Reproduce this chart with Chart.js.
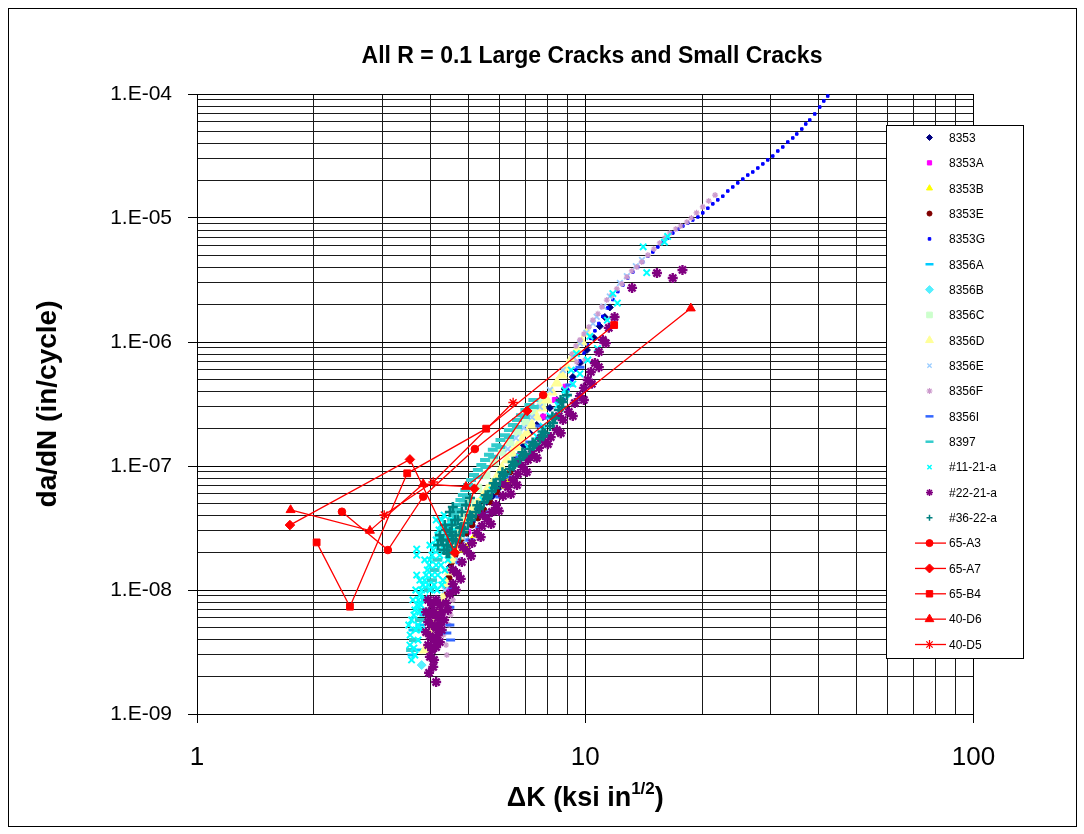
<!DOCTYPE html>
<html>
<head>
<meta charset="utf-8">
<title>All R = 0.1 Large Cracks and Small Cracks</title>
<script src="https://cdn.jsdelivr.net/npm/chart.js@4.4.1/dist/chart.umd.min.js"></script>
<style>
  html, body { margin: 0; padding: 0; background: #fff; }
  #wrap { width: 1084px; height: 834px; position: relative; }
</style>
</head>
<body>
<div id="wrap"><canvas id="crackChart" width="1084" height="834"></canvas></div>
<script>
// --- Data: [deltaK (ksi in^1/2), da/dN (in/cycle)] per specimen ---
const s8353 = [[11.57,1.90e-6],[11.23,1.59e-6],[10.90,1.34e-6],[10.53,1.08e-6],[10.10,8.62e-7],[9.69,6.77e-7],[9.29,5.22e-7],[8.86,4.18e-7],[8.45,3.41e-7],[8.11,2.94e-7],[7.78,2.48e-7],[7.50,2.14e-7],[7.20,1.84e-7],[6.95,1.47e-7],[6.67,1.18e-7],[6.36,9.11e-8],[6.03,6.77e-8],[5.78,5.73e-8],[5.58,5.13e-8],[5.35,4.42e-8],[5.11,3.54e-8],[4.96,2.88e-8],[4.76,2.48e-8],[4.64,2.10e-8],[4.56,1.75e-8],[4.48,1.54e-8],[4.43,1.25e-8],[4.40,1.04e-8]];
const s8353A = [[4.40,9.3e-9],[4.46,1.02e-8],[5.00,2.96e-8],[5.29,4.02e-8],[6.79,1.23e-7],[7.80,2.50e-7],[8.35,3.41e-7],[8.90,4.36e-7]];
const s8353B = [[4.84,2.10e-8],[4.93,2.23e-8],[5.10,2.53e-8],[5.20,2.77e-8],[6.21,6.88e-8],[6.32,7.50e-8]];
const s8353E = [[6.40,8.94e-8],[6.14,7.27e-8],[5.92,6.16e-8],[5.68,5.13e-8],[5.48,4.42e-8],[5.29,3.81e-8],[5.11,3.34e-8],[4.93,2.88e-8],[4.81,2.48e-8],[4.70,2.18e-8],[4.62,1.91e-8],[4.53,1.68e-8],[4.48,1.48e-8],[4.46,1.25e-8],[4.40,1.10e-8],[4.38,9.28e-9]];
const s8353G = [[42.13,9.63e-5],[41.15,8.78e-5],[40.18,7.85e-5],[39.00,6.90e-5],[37.87,6.17e-5],[36.98,5.73e-5],[36.12,5.22e-5],[35.06,4.76e-5],[34.24,4.42e-5],[33.24,4.10e-5],[32.27,3.74e-5],[31.33,3.47e-5],[30.41,3.16e-5],[29.52,2.94e-5],[28.67,2.73e-5],[27.83,2.53e-5],[27.01,2.35e-5],[26.22,2.22e-5],[25.46,2.06e-5],[24.71,1.92e-5],[23.99,1.78e-5],[23.29,1.65e-5],[22.61,1.50e-5],[21.95,1.40e-5],[21.31,1.30e-5],[20.69,1.20e-5],[20.08,1.10e-5],[19.50,1.02e-5],[18.92,9.64e-6],[18.37,9.11e-6],[17.84,8.62e-6],[17.31,8.15e-6],[16.81,7.57e-6],[16.32,6.90e-6],[15.84,6.40e-6],[15.38,5.84e-6],[14.93,5.32e-6],[14.50,4.94e-6],[14.07,4.42e-6],[13.66,4.03e-6],[13.26,3.67e-6],[12.87,3.28e-6],[12.50,2.88e-6],[12.13,2.55e-6],[11.78,2.20e-6],[11.43,1.88e-6],[11.10,1.61e-6],[10.84,1.41e-6],[10.59,1.23e-6],[10.34,1.07e-6],[10.15,9.46e-7],[9.92,8.15e-7],[9.685,7.03e-7],[9.46,5.94e-7],[9.24,4.94e-7],[9.02,4.10e-7],[8.81,3.41e-7],[8.60,2.83e-7]];
const s8356A = [[3.60,4.76e-9],[3.66,3.95e-9],[3.71,3.28e-9],[3.58,2.99e-9],[3.75,5.22e-9],[3.84,6.28e-9]];
const s8356B = [[3.79,2.48e-9]];
const s8356C = [[7.73,3.22e-7],[7.37,2.73e-7],[7.03,2.27e-7],[6.71,1.88e-7],[6.40,1.56e-7],[6.10,1.30e-7],[5.82,1.08e-7],[5.55,8.46e-8],[5.29,6.64e-8],[5.05,5.32e-8],[4.81,4.02e-8],[4.62,3.05e-8]];
const s8356D = [[10.1,1.18e-6],[9.80,1.0e-6],[9.52,8.62e-7],[9.24,7.43e-7],[8.97,6.27e-7],[8.71,5.41e-7],[8.45,4.67e-7],[8.20,3.95e-7],[7.96,3.41e-7],[7.73,2.94e-7],[7.50,2.48e-7],[7.29,2.14e-7],[7.07,1.84e-7],[6.87,1.62e-7],[6.67,1.42e-7],[6.47,1.27e-7],[6.28,1.12e-7],[6.10,9.63e-8],[5.92,8.15e-8],[5.75,7.15e-8],[5.58,6.40e-8],[5.42,5.52e-8],[5.26,4.93e-8],[5.11,4.34e-8],[4.96,3.67e-8],[4.84,3.17e-8],[4.76,2.72e-8],[4.64,2.18e-8],[4.56,1.75e-8],[4.48,1.40e-8],[4.40,1.12e-8],[4.30,8.62e-9],[4.22,6.90e-9],[4.10,5.52e-9],[3.98,4.50e-9],[3.86,3.28e-9]];
const s8356E = [[14.0,4.58e-6],[13.5,4.08e-6],[12.8,3.39e-6],[12.28,2.99e-6],[11.57,2.33e-6],[11.13,1.93e-6],[10.7,1.60e-6],[10.47,1.41e-6],[10.07,1.19e-6],[9.69,9.75e-7],[9.30,7.60e-7],[8.76,5.94e-7],[8.11,4.10e-7],[7.64,3.00e-7],[7.29,2.47e-7],[6.95,2.03e-7],[6.63,1.68e-7],[6.32,1.37e-7],[4.93,2.53e-8],[4.70,1.75e-8],[4.35,1.0e-8],[4.17,8.31e-9]];
const s8356F = [[21.6,1.53e-5],[20.8,1.37e-5],[20.08,1.23e-5],[19.35,1.10e-5],[18.77,1.0e-5],[18.27,9.28e-6],[17.62,8.62e-6],[17.11,8.15e-6],[16.51,7.57e-6],[16.03,6.90e-6],[15.56,6.29e-6],[15.02,5.62e-6],[14.50,5.02e-6],[13.98,4.42e-6],[13.58,4.03e-6],[13.18,3.74e-6],[12.80,3.34e-6],[12.43,2.94e-6],[12.06,2.68e-6],[11.71,2.40e-6],[11.36,2.18e-6],[11.04,1.92e-6],[10.78,1.69e-6],[10.46,1.50e-6],[10.22,1.32e-6],[9.92,1.16e-6],[9.69,1.04e-6],[9.46,9.28e-7],[9.24,8.00e-7],[9.51,6.90e-7],[9.98,7.16e-7],[4.31,4.33e-9],[4.38,3.60e-9],[4.46,5.22e-9],[4.50,6.28e-9],[4.56,8.31e-9],[4.40,2.99e-9],[4.64,1.0e-8]];
const s8356I = [[9.69,6.27e-7],[9.13,4.50e-7],[8.60,3.22e-7],[8.11,2.44e-7],[7.64,2.10e-7],[7.20,1.56e-7],[6.79,1.18e-7],[6.40,8.15e-8],[6.03,5.62e-8],[5.68,4.26e-8],[5.35,3.22e-8],[5.05,2.53e-8],[4.76,1.66e-8],[4.56,1.04e-8],[4.48,7.27e-9],[4.48,5.22e-9],[4.50,3.95e-9],[4.40,4.50e-9]];
const s8397 = [[7.35,3.41e-7],[7.18,3.10e-7],[7.01,2.83e-7],[6.83,2.57e-7],[6.67,2.35e-7],[6.51,2.14e-7],[6.36,1.95e-7],[6.21,1.77e-7],[6.05,1.62e-7],[5.90,1.47e-7],[5.78,1.35e-7],[5.65,1.23e-7],[5.52,1.12e-7],[5.40,1.02e-7],[5.29,9.28e-8],[5.17,8.46e-8],[5.08,7.71e-8],[4.99,7.02e-8],[4.91,6.40e-8],[4.84,5.83e-8],[4.77,5.32e-8],[4.70,4.84e-8],[4.64,4.42e-8],[4.59,4.02e-8],[4.54,3.67e-8],[4.48,3.34e-8],[4.43,3.05e-8],[4.33,2.53e-8],[4.25,2.10e-8],[4.16,1.75e-8],[4.09,1.45e-8],[4.03,1.20e-8],[3.96,1.00e-8],[3.89,8.31e-9],[3.82,6.90e-9],[3.75,5.73e-9],[3.69,4.76e-9],[3.62,3.95e-9],[3.56,3.28e-9],
  [7.37,2.99e-7],[6.99,2.48e-7],[6.67,2.06e-7],[6.36,1.71e-7],[6.04,1.42e-7],[5.79,1.19e-7],[5.53,9.83e-8],[5.29,8.16e-8],[5.11,6.77e-8],[4.96,5.62e-8],
  [4.86,4.90e-8],[4.74,4.30e-8],[4.66,3.80e-8],[4.58,3.40e-8],[4.50,2.95e-8],[4.42,2.60e-8]];
const s11_21a = [[3.57,5.73e-9],[3.64,6.90e-9],[3.72,8.31e-9],[3.79,1.0e-8],[3.86,1.20e-8],[3.92,1.45e-8],[3.98,1.75e-8],[4.06,2.10e-8],[4.13,2.53e-8],[4.20,3.05e-8],[4.27,3.67e-8],[3.66,4.76e-9],[3.75,6.63e-9],[3.86,8.62e-9],[3.94,1.10e-8],[4.03,1.32e-8],[4.13,1.59e-8],[4.22,1.91e-8],[4.33,2.30e-8],[4.40,2.77e-8],[3.98,1.0e-8],[4.17,1.32e-8],[4.25,1.59e-8],[3.71,5.22e-9],[3.77,7.57e-9],[3.54,4.33e-9],[3.62,3.40e-9],[4.48,2.53e-8],[4.59,3.05e-8],[4.53,3.67e-8],[4.30,1.2e-8],
  [3.535,3.60e-9],[3.57,2.73e-9],[3.64,2.99e-9],[3.71,3.95e-9],[3.79,4.76e-9],[3.62,6.28e-9],[3.69,7.57e-9],[3.75,9.11e-9],[3.82,1.10e-8],[3.89,1.32e-8],[3.96,1.59e-8],[4.03,1.91e-8],[4.10,2.30e-8],[4.17,2.77e-8],[4.25,3.34e-8],[4.33,4.02e-8],[4.08,1.10e-8],[4.15,1.0e-8],[4.27,1.10e-8],[4.35,1.45e-8],[3.75,1.20e-8],[3.86,1.75e-8],[3.98,2.30e-8],[4.13,3.67e-8],[3.60,8.31e-9],[3.51,5.22e-9],[3.66,1.0e-8],[4.43,1.75e-8],[4.48,2.10e-8],[4.38,3.34e-8],
  [3.68,2.14e-8],[3.68,1.91e-8],[3.68,1.32e-8],
  [5.45,5.32e-8],[5.75,6.40e-8],[6.14,7.71e-8],[6.47,9.63e-8],[6.79,1.18e-7],[7.12,1.42e-7],[7.50,1.73e-7],[7.78,2.10e-7],[8.11,2.54e-7],[8.50,3.10e-7],[8.93,3.79e-7],[9.29,4.58e-7],[9.69,5.54e-7],[10.15,7.16e-7],[10.75,8.86e-7],[11.4,1.50e-6],[12.1,2.06e-6],
  [14.1,5.86e-6],[16.3,7.1e-6],[16.0,6.4e-6],[14.4,3.62e-6],[11.78,2.46e-6],[10.28,1.11e-6],[9.49,8.07e-7],[9.2,5.94e-7],[8.86,4.10e-7]];
const s22_21a = [[11.9,1.59e-6],[11.5,1.30e-6],[11.1,1.04e-6],[10.84,8.31e-7],[10.59,6.77e-7],[10.34,5.73e-7],[10.15,4.94e-7],[9.92,4.27e-7],[9.69,3.66e-7],[9.40,3.22e-7],[9.07,2.73e-7],[8.76,2.35e-7],[8.45,1.95e-7],[8.15,1.71e-7],[7.87,1.56e-7],[7.60,1.40e-7],[7.29,1.25e-7],[7.12,1.12e-7],[6.91,9.83e-8],[6.71,8.62e-8],[6.51,7.71e-8],[6.32,6.77e-8],[6.14,5.73e-8],[5.89,4.84e-8],[5.75,4.26e-8],[5.58,3.74e-8],[5.42,3.28e-8],[5.26,2.88e-8],[5.11,2.39e-8],[4.96,2.06e-8],[4.81,1.68e-8],[4.67,1.37e-8],[4.56,1.12e-8],[4.48,9.28e-9],
  [11.3,9.8e-7],[10.84,6.27e-7],[10.40,4.60e-7],[9.92,3.41e-7],[9.29,2.53e-7],[8.65,1.84e-7],[8.01,1.50e-7],[7.50,1.16e-7],[7.07,8.94e-8],[6.67,7.02e-8],[6.43,5.94e-8],[5.99,4.34e-8],[5.72,3.40e-8],[5.38,2.67e-8],[5.08,1.88e-8],[4.78,1.23e-8],[4.64,1.00e-8],
  [8.55,2.53e-7],[7.69,1.68e-7],[6.74,1.06e-7],[6.14,7.27e-8],[5.45,4.02e-8],[4.84,2.21e-8],[4.56,1.45e-8],
  [3.94,8.31e-9],[4.03,7.57e-9],[4.13,8.31e-9],[4.22,7.57e-9],[3.89,6.63e-9],[3.98,6.28e-9],[4.08,6.63e-9],[4.17,5.95e-9],[4.27,6.63e-9],[3.94,5.52e-9],[4.03,5.22e-9],[4.13,4.94e-9],[4.22,5.22e-9],[4.33,5.73e-9],[3.89,4.58e-9],[3.98,4.25e-9],[4.08,3.95e-9],[4.17,4.33e-9],[4.27,4.76e-9],[3.94,3.60e-9],[4.03,3.28e-9],[4.13,3.47e-9],[4.22,3.80e-9],[3.98,2.89e-9],[4.08,2.73e-9],[4.38,7.85e-9],[4.43,6.90e-9],
  [4.06,2.40e-9],[4.13,1.81e-9],[3.96,2.15e-9],
  [13.2,2.73e-6],[15.3,3.60e-6],[16.8,3.28e-6],[17.8,3.81e-6]];
const s36_22a = [[8.97,3.73e-7],[8.76,3.29e-7],[8.55,2.83e-7],[8.35,2.43e-7],[8.11,2.10e-7],[7.87,1.84e-7],[7.64,1.65e-7],[7.42,1.50e-7],[7.20,1.37e-7],[6.99,1.25e-7],[6.79,1.14e-7],[6.59,1.04e-7],[6.40,9.45e-8],[6.21,8.62e-8],[6.03,7.85e-8],[5.89,7.02e-8],[5.75,6.28e-8],[5.62,5.62e-8],[5.48,5.13e-8],[5.35,4.67e-8],[5.23,4.26e-8],[5.11,3.87e-8],[4.99,3.47e-8],[4.87,3.11e-8],[4.76,2.77e-8],[4.64,2.48e-8],[4.53,2.21e-8],[4.40,1.98e-8],
  [8.70,2.99e-7],[8.26,2.22e-7],[7.78,1.74e-7],[7.33,1.45e-7],[6.91,1.20e-7],[6.52,9.99e-8],[6.14,8.30e-8],[5.85,6.64e-8],[5.58,5.42e-8],[5.32,4.50e-8],[5.08,3.67e-8],[4.85,2.93e-8],
  [8.64,3.40e-7],[8.23,2.51e-7],[7.76,1.90e-7],[7.32,1.55e-7],[6.89,1.29e-7],[6.50,1.08e-7],[6.12,8.91e-8],[5.81,7.26e-8],[5.54,5.81e-8],[5.27,4.83e-8],[5.04,4.00e-8],[4.80,3.22e-8],[4.57,2.56e-8],
  [4.22,2.77e-8],[4.30,2.53e-8],[4.38,3.05e-8],[4.43,2.53e-8],[4.48,2.94e-8],[4.53,3.34e-8],[4.40,2.30e-8],[4.33,2.10e-8],[4.62,3.67e-8],[4.48,4.26e-8],[4.56,4.67e-8],[4.18,2.30e-8],[4.64,2.77e-8],
  [4.70,3.67e-8],[4.81,4.26e-8],[4.93,4.84e-8],[5.05,5.52e-8],[4.76,3.17e-8],[4.53,2.77e-8],[4.35,3.34e-8],[4.46,1.98e-8],[4.25,2.53e-8]];
// small-crack specimens (joined in test order)
const s65A3 = [[2.362,4.28e-8],[3.102,2.10e-8],[3.825,5.66e-8],[5.196,1.37e-7],[7.79,3.74e-7]];
const s65A7 = [[1.735,3.34e-8],[3.535,1.13e-7],[4.616,2.00e-8],[5.18,6.56e-8],[7.087,2.78e-7]];
const s65B4 = [[2.033,2.42e-8],[2.477,7.33e-9],[3.479,8.73e-8],[5.557,2.00e-7],[11.87,1.37e-6]];
const s40D6 = [[1.742,4.42e-8],[2.789,3.01e-8],[3.825,7.16e-8],[4.927,6.81e-8],[18.7,1.87e-6]];
const s40D5 = [[3.035,4.03e-8],[4.058,7.43e-8],[6.52,3.25e-7]];

const seriesNames = ['8353', '8353A', '8353B', '8353E', '8353G', '8356A', '8356B', '8356C', '8356D', '8356E', '8356F', '8356I', '8397', '#11-21-a', '#22-21-a', '#36-22-a', '65-A3', '65-A7', '65-B4', '40-D6', '40-D5'];
const seriesData = [s8353, s8353A, s8353B, s8353E, s8353G, s8356A, s8356B, s8356C, s8356D, s8356E, s8356F, s8356I, s8397, s11_21a, s22_21a, s36_22a, s65A3, s65A7, s65B4, s40D6, s40D5];

// --- Marker styles ---
const seriesColors = ['#000080', '#FF00FF', '#FFFF00', '#800000', '#0000FF', '#00CCFF', '#55F0FF', '#CCFFCC', '#FFFF99', '#99CCFF', '#CC99CC', '#3366FF', '#33CCCC', '#00FFFF', '#800080', '#008080', '#FF0000', '#FF0000', '#FF0000', '#FF0000', '#FF0000'];
const seriesMarkers = ['rectRot', 'rect', 'triangle', 'circle', 'rect', 'line', 'rectRot', 'rect', 'triangle', 'crossRot', 'star', 'line', 'line', 'crossRot', 'star', 'cross', 'circle', 'rectRot', 'rect', 'triangle', 'star'];
const seriesRadius = [3.5, 3.5, 4, 3, 1.8, 4.5, 4.5, 5.5, 6, 4, 3, 4.5, 5, 4.5, 5, 5, 3.8, 4.8, 4.8, 5.2, 4.8];
const seriesStroke = [1, 1, 1, 1, 1, 3, 1, 1, 1, 1.8, 1.2, 3, 4, 2, 2.4, 2.6, 1, 1, 1, 1, 1.4];
const legendRadius = [3, 3, 3.5, 2.5, 1.8, 4, 4, 4, 4.5, 3, 3, 4, 4, 3, 3.5, 3, 3.5, 4.5, 4.5, 5, 4.5];
const legendStroke = [1, 1, 1, 1, 1, 2.5, 1, 1, 1, 1.2, 1.2, 2.5, 2.5, 1.5, 1.5, 1.5, 1, 1, 1, 1, 1.2];
const joinedSeries = ['65-A3', '65-A7', '65-B4', '40-D6', '40-D5'];

const FONT = '"Liberation Sans", Arial, sans-serif';

function isDecade(v) {
    const e = Math.log10(v);
    return Math.abs(e - Math.round(e)) < 1e-6;
}

function logTicks(min, max) {
    const ticks = [];
    for (let e = Math.floor(Math.log10(min)); e <= Math.ceil(Math.log10(max)); e++) {
        for (let m = 1; m <= 9; m++) {
            const v = Number(m + 'e' + e);
            if (v >= min * 0.999999 && v <= max * 1.000001) ticks.push({ value: v });
        }
    }
    return ticks;
}

function expLabel(v) {
    const e = Math.round(Math.log10(v));
    return '1.E' + (e < 0 ? '-' : '+') + String(Math.abs(e)).padStart(2, '0');
}

const datasets = seriesNames.map((name, i) => ({
    label: name,
    data: seriesData[i].map(p => ({ x: p[0], y: p[1] })),
    showLine: joinedSeries.includes(name),
    borderColor: seriesColors[i],
    backgroundColor: seriesColors[i],
    borderWidth: 1.3,
    pointStyle: seriesMarkers[i],
    pointRadius: seriesRadius[i],
    pointBorderWidth: seriesStroke[i],
    pointHoverRadius: seriesRadius[i],
    order: seriesNames.length - i
}));

const gridColor = ctx => (ctx.tick && isDecade(ctx.tick.value)) ? '#000000' : '#1a1a1a';
const tickMarkColor = ctx => (ctx.tick && isDecade(ctx.tick.value)) ? '#000000' : 'rgba(0,0,0,0)';

// Titles, frame and the boxed legend
const decorations = {
    id: 'decorations',
    afterDraw(chart) {
        const ctx = chart.ctx;
        const area = chart.chartArea;
        ctx.save();

        // outer frame
        ctx.strokeStyle = '#000';
        ctx.lineWidth = 1;
        ctx.strokeRect(8.5, 8.5, 1068, 818);

        // chart title
        ctx.fillStyle = '#000';
        ctx.textAlign = 'center';
        ctx.textBaseline = 'middle';
        ctx.font = 'bold 23px ' + FONT;
        ctx.fillText('All R = 0.1 Large Cracks and Small Cracks', 592, 57);

        // x-axis title with superscript exponent
        const mainFont = 'bold 27px ' + FONT;
        const supFont = 'bold 17px ' + FONT;
        const head = '\u0394K (ksi in', sup = '1/2', tail = ')';
        ctx.font = mainFont;
        const wHead = ctx.measureText(head).width, wTail = ctx.measureText(tail).width;
        ctx.font = supFont;
        const wSup = ctx.measureText(sup).width;
        let x = (area.left + area.right) / 2 - (wHead + wSup + wTail) / 2;
        const yTitle = 799;
        ctx.textAlign = 'left';
        ctx.font = mainFont;
        ctx.fillText(head, x, yTitle);
        x += wHead;
        ctx.font = supFont;
        ctx.fillText(sup, x, yTitle - 10);
        x += wSup;
        ctx.font = mainFont;
        ctx.fillText(tail, x, yTitle);

        // y-axis title
        ctx.save();
        ctx.translate(48, (area.top + area.bottom) / 2);
        ctx.rotate(-Math.PI / 2);
        ctx.textAlign = 'center';
        ctx.font = 'bold 28px ' + FONT;
        ctx.fillText('da/dN (in/cycle)', 0, 0);
        ctx.restore();

        // legend box
        const box = { left: 886, top: 125, right: 1023, bottom: 658 };
        ctx.fillStyle = '#fff';
        ctx.fillRect(box.left, box.top, box.right - box.left, box.bottom - box.top);
        ctx.strokeStyle = '#000';
        ctx.lineWidth = 1;
        ctx.strokeRect(box.left + 0.5, box.top + 0.5, box.right - box.left, box.bottom - box.top);

        const rowStep = (644 - 137) / (seriesNames.length - 1);
        ctx.font = '12px ' + FONT;
        ctx.textAlign = 'left';
        ctx.textBaseline = 'middle';
        chart.data.datasets.forEach((ds, i) => {
            const y = 137.5 + i * rowStep;
            const mx = 929.5;
            if (ds.showLine) {
                ctx.strokeStyle = ds.borderColor;
                ctx.lineWidth = 1.3;
                ctx.beginPath();
                ctx.moveTo(915, y);
                ctx.lineTo(946, y);
                ctx.stroke();
            }
            ctx.fillStyle = ds.backgroundColor;
            ctx.strokeStyle = ds.borderColor;
            ctx.lineWidth = legendStroke[i];
            Chart.helpers.drawPoint(ctx, {
                pointStyle: ds.pointStyle,
                radius: legendRadius[i],
                rotation: 0,
                borderWidth: legendStroke[i]
            }, mx, y);
            ctx.fillStyle = '#000';
            ctx.fillText(ds.label, 949, y + 1);
        });

        ctx.restore();
    }
};

new Chart(document.getElementById('crackChart'), {
    type: 'scatter',
    data: { datasets: datasets },
    options: {
        responsive: false,
        animation: false,
        devicePixelRatio: 1,
        layout: { padding: { top: 94, right: 110.5, bottom: 0, left: 0 } },
        plugins: {
            legend: { display: false },
            tooltip: { enabled: false },
            title: { display: false }
        },
        scales: {
            x: {
                type: 'logarithmic',
                min: 1,
                max: 100,
                afterBuildTicks: scale => { scale.ticks = logTicks(scale.min, scale.max); },
                afterFit: scale => { scale.height = 120; },
                grid: { color: gridColor, lineWidth: 1, tickLength: 9, tickColor: tickMarkColor, tickWidth: 1 },
                border: { display: true, color: '#000', width: 1 },
                ticks: {
                    autoSkip: false,
                    maxRotation: 0,
                    padding: 19,
                    color: '#000',
                    font: { family: FONT, size: 26 },
                    callback: v => isDecade(v) ? String(Math.round(v)) : ''
                }
            },
            y: {
                type: 'logarithmic',
                min: 1e-9,
                max: 1e-4,
                afterBuildTicks: scale => { scale.ticks = logTicks(scale.min, scale.max); },
                afterFit: scale => { scale.width = 197; },
                grid: { color: gridColor, lineWidth: 1, tickLength: 9, tickColor: tickMarkColor, tickWidth: 1 },
                border: { display: true, color: '#000', width: 1 },
                ticks: {
                    autoSkip: false,
                    padding: 16,
                    color: '#000',
                    font: { family: FONT, size: 21 },
                    callback: v => isDecade(v) ? expLabel(v) : ''
                }
            }
        }
    },
    plugins: [decorations]
});
</script>
</body>
</html>
